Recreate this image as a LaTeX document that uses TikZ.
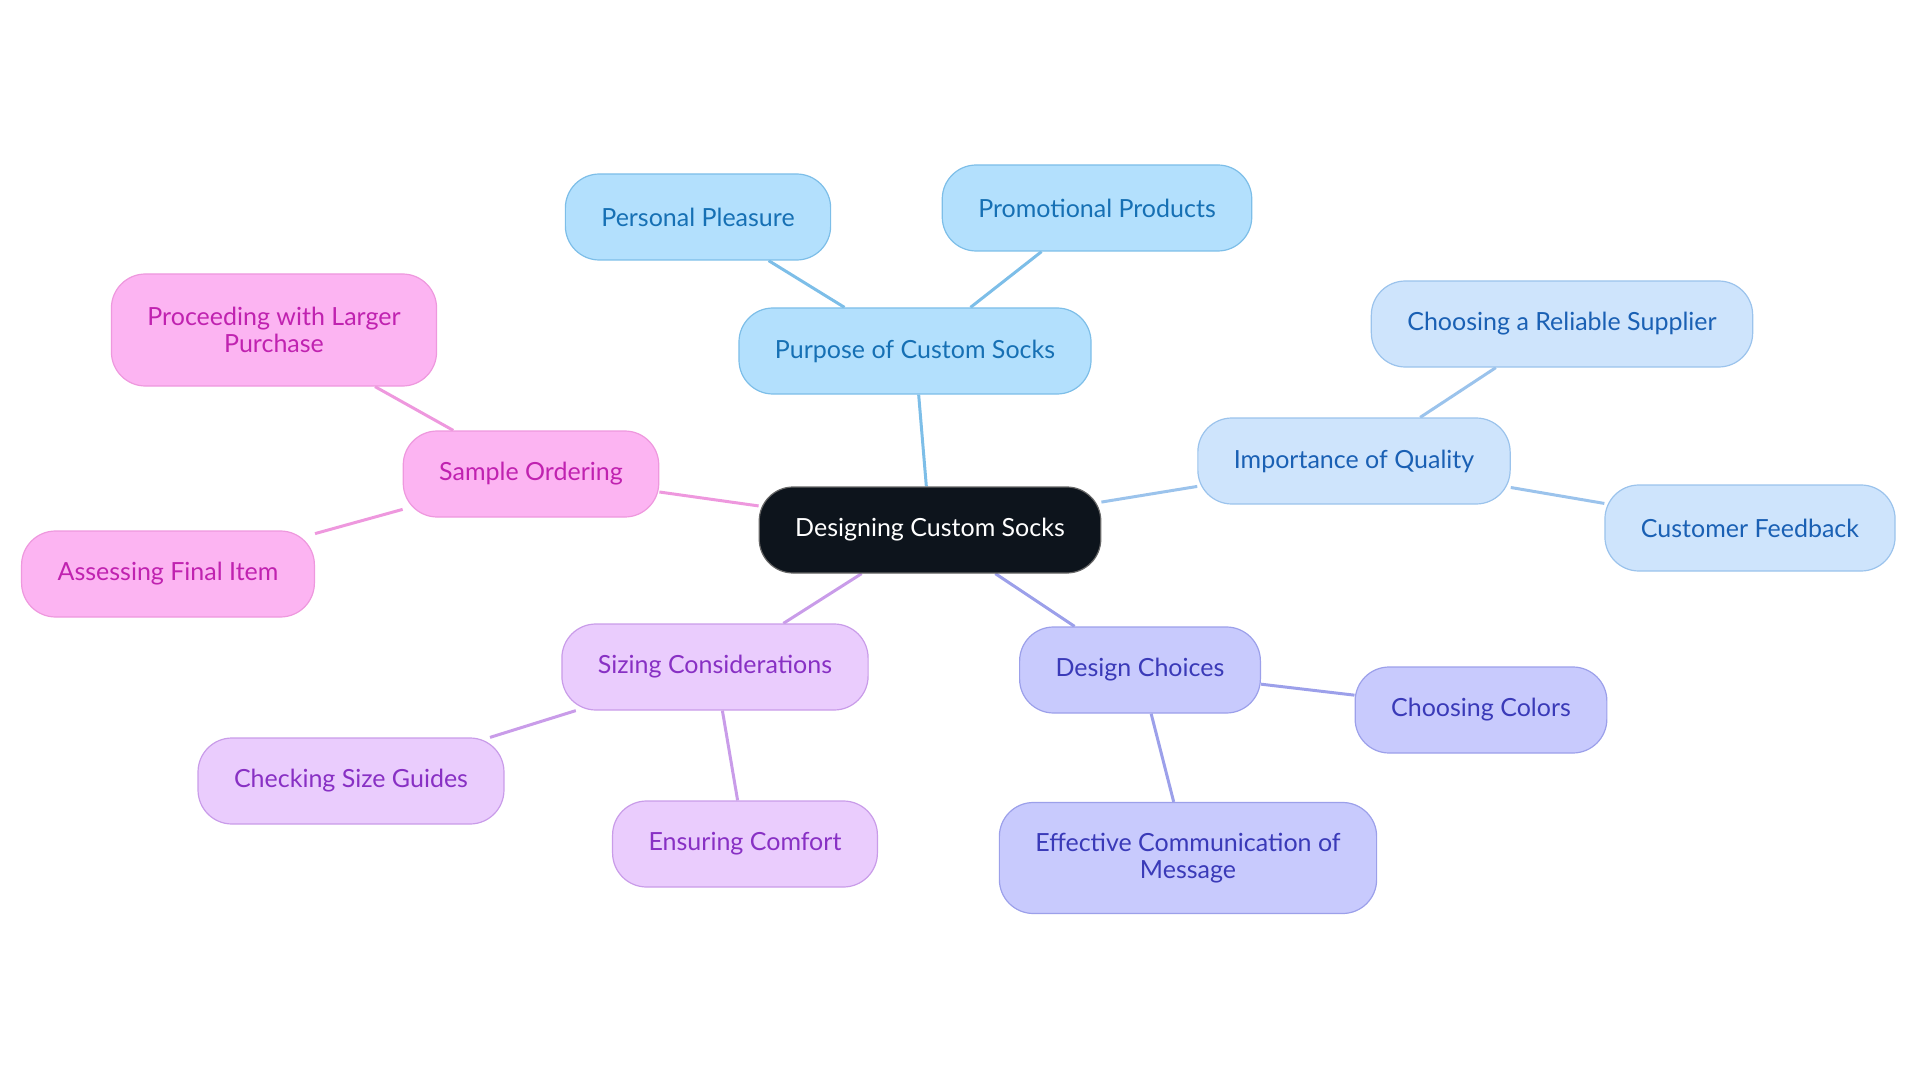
\documentclass[tikz,border=0pt]{standalone}
\usepackage{fontspec}
\setmainfont{Lato}
\usepackage{xcolor}
\usepackage{tikz}
\usetikzlibrary{positioning, backgrounds}
\definecolor{rootfill}{RGB}{13,20,28}
\definecolor{skyfill}{RGB}{179,224,253}
\definecolor{skyline}{RGB}{125,190,232}
\definecolor{skytext}{RGB}{22,112,180}
\definecolor{icefill}{RGB}{206,228,252}
\definecolor{iceline}{RGB}{155,195,236}
\definecolor{icetext}{RGB}{26,96,180}
\definecolor{perifill}{RGB}{200,202,253}
\definecolor{periline}{RGB}{156,160,234}
\definecolor{peritext}{RGB}{58,58,184}
\definecolor{lilacfill}{RGB}{234,204,253}
\definecolor{lilacline}{RGB}{201,156,233}
\definecolor{lilactext}{RGB}{136,48,196}
\definecolor{pinkfill}{RGB}{252,180,242}
\definecolor{pinkline}{RGB}{238,152,222}
\definecolor{pinktext}{RGB}{192,34,176}
\tikzstyle{topic}  = [rectangle, rounded corners=34pt, minimum height=86pt, inner xsep=36pt,
                      align=center, line width=1.2pt, font=\fontsize{25}{27}\selectfont]
\tikzstyle{link}   = [line width=3pt]

\begin{document}
\begin{tikzpicture}[x=1pt, y=-1pt,
      root/.style={topic, fill=rootfill, draw=black!60, text=white},
      sky/.style={topic, fill=skyfill, draw=skyline, text=skytext},
      ice/.style={topic, fill=icefill, draw=iceline, text=icetext},
      peri/.style={topic, fill=perifill, draw=periline, text=peritext},
      lilac/.style={topic, fill=lilacfill, draw=lilacline, text=lilactext},
      pink/.style={topic, fill=pinkfill, draw=pinkline, text=pinktext},
    ]
    \useasboundingbox (0,0) rectangle (1920,1083);

    \node[root]  (socks)    at (930,530)  {Designing Custom Socks};

    \node[sky]   (purpose)  at (915,351)  {Purpose of Custom Socks};
    \node[sky]   (pleasure) at (698,217)  {Personal Pleasure};
    \node[sky]   (promo)    at (1097,208) {Promotional Products};

    \node[ice]   (quality)  at (1354,461) {Importance of Quality};
    \node[ice]   (supplier) at (1562,324) {Choosing a Reliable Supplier};
    \node[ice]   (feedback) at (1750,528) {Customer Feedback};

    \node[peri]  (design)   at (1140,670) {Design Choices};
    \node[peri]  (colors)   at (1481,710) {Choosing Colors};
    \node[peri, minimum height=111pt] (message) at (1188,858)
      {Effective Communication of\\Message};

    \node[lilac] (sizing)   at (715,667)  {Sizing Considerations};
    \node[lilac] (guides)   at (351,781)  {Checking Size Guides};
    \node[lilac] (comfort)  at (745,844)  {Ensuring Comfort};

    \node[pink]  (sample)   at (531,474)  {Sample Ordering};
    \node[pink, minimum height=112pt] (larger) at (274,330)
      {Proceeding with Larger\\Purchase};
    \node[pink]  (final)    at (168,574)  {Assessing Final Item};

    \begin{scope}[on background layer]
      \draw[link, skyline]   (socks) -- (purpose);
      \draw[link, skyline]   (purpose) -- (pleasure);
      \draw[link, skyline]   (purpose) -- (promo);
      \draw[link, iceline]   (socks) -- (quality);
      \draw[link, iceline]   (quality) -- (supplier);
      \draw[link, iceline]   (quality) -- (feedback);
      \draw[link, periline]  (socks) -- (design);
      \draw[link, periline]  (design) -- (colors);
      \draw[link, periline]  (design) -- (message);
      \draw[link, lilacline] (socks) -- (sizing);
      \draw[link, lilacline] (sizing) -- (guides);
      \draw[link, lilacline] (sizing) -- (comfort);
      \draw[link, pinkline]  (socks) -- (sample);
      \draw[link, pinkline]  (sample) -- (larger);
      \draw[link, pinkline]  (sample) -- (final);
    \end{scope}
  \end{tikzpicture}
\end{document}
